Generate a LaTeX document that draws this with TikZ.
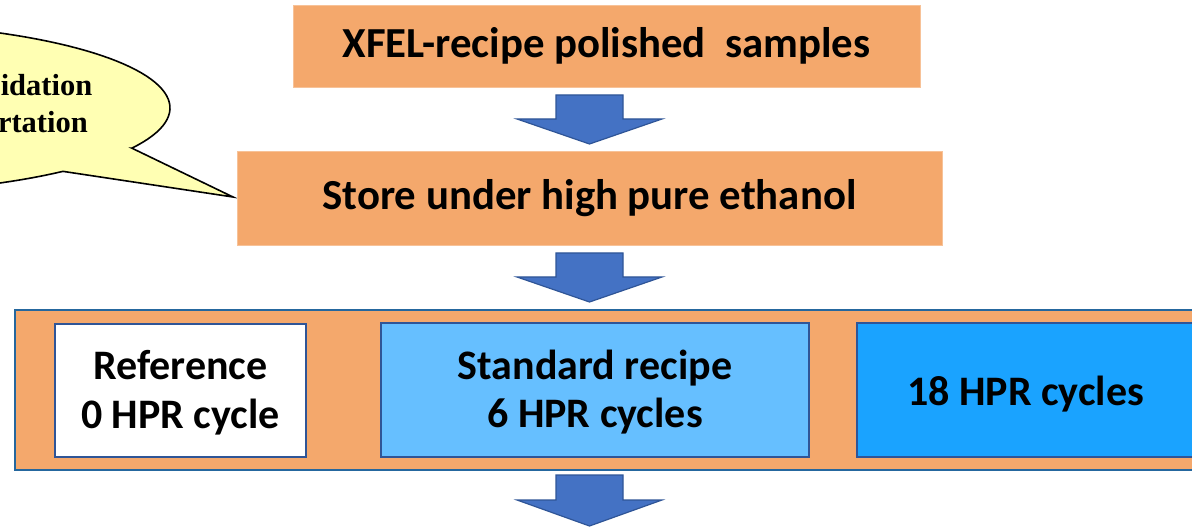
\documentclass[tikz,border=0pt]{standalone}
\usepackage{fontspec}
\setmainfont{Carlito}
\newfontfamily\calloutfont{Liberation Serif}
\definecolor{boxorange}{HTML}{F4A86C}
\definecolor{boxedge}{HTML}{2F5597}
\definecolor{arrowblue}{HTML}{4472C4}
\definecolor{lightblue}{HTML}{66BFFF}
\definecolor{midblue}{HTML}{1AA3FF}
\definecolor{frameblue}{HTML}{25679E}
\definecolor{calloutfill}{HTML}{FFFFB3}
\tikzset{
  stepbox/.style={fill=boxorange, draw=boxorange!70!white, line width=0.6pt, inner sep=0pt,
    font=\fontsize{42.8}{50}\selectfont\bfseries, align=center},
  casebox/.style={draw=boxedge, line width=2pt, inner sep=0pt},
  casetext/.style={inner sep=0pt, font=\fontsize{42}{48.5}\selectfont\bfseries, align=center},
  framebox/.style={fill=boxorange, draw=frameblue, line width=1.6pt, inner sep=0pt},
  blockarrow/.style={fill=arrowblue, draw=boxedge, line width=1.2pt, line join=miter},
  bubble/.style={fill=calloutfill, draw=black, line width=1.6pt, line join=miter},
  callouttext/.style={font=\calloutfont\bfseries\fontsize{30.5}{36}\selectfont, inner sep=0pt}
}
\newcommand\BlkArrow[4]{%
  \draw[blockarrow] (#1-33.5,#2) -- (#1+33.5,#2) -- (#1+33.5,#3) -- (#1+72.5,#3)
    -- (#1,#4) -- (#1-72.5,#3) -- (#1-33.5,#3) -- cycle;}
\begin{document}
\begin{tikzpicture}[x=1pt,y=-1pt]
\useasboundingbox (0,0) rectangle (1192,529);
\clip (0,0) rectangle (1192,529);
\fill[white] (0,0) rectangle (1192,529);

% callout bubble
\draw[bubble] ({-151+321*cos(28.2)},{108+85*sin(28.2)}) -- (233,197)
  -- ({-151+321*cos(48.2)},{108+85*sin(48.2)})
  -- plot[domain=48.2:388.2, samples=150, variable=\t] ({-151+321*cos(\t)},{108+85*sin(\t)})
  -- cycle;
\node[callouttext, anchor=base east] (c1) at (92.5,96) {idation};
\node[callouttext, anchor=base east] (c2) at (88,133) {rtation};

% main steps
\node[stepbox, minimum width=627pt, minimum height=82pt] (s1) at (606.5,46) {XFEL-recipe polished\ \ samples};
\node[stepbox, minimum width=705pt, minimum height=94pt] (s2) at (589.5,198) {Store under high pure ethanol};

% frame with cases
\node[framebox, minimum width=1200pt, minimum height=160pt, anchor=north west] (fr) at (14,309) {};
\node[casebox, fill=white, minimum width=251pt, minimum height=133pt,
  label={[casetext, yshift=-2pt]center:{Reference\\0 HPR cycle}}] (r0) at (180.5,390.5) {};
\node[casebox, fill=lightblue, minimum width=428pt, minimum height=134pt,
  label={[casetext, yshift=-2pt]center:{Standard recipe\\6 HPR cycles}}] (r6) at (595,390) {};
\node[casebox, fill=midblue, minimum width=337pt, minimum height=134pt,
  label={[casetext, yshift=-4pt]center:{18 HPR cycles}}] (r18) at (1025.5,390) {};

% block arrows
\BlkArrow{589.5}{95}{119}{144}
\BlkArrow{589.5}{253}{277}{302}
\BlkArrow{589.5}{475}{500}{526}
\end{tikzpicture}
\end{document}
